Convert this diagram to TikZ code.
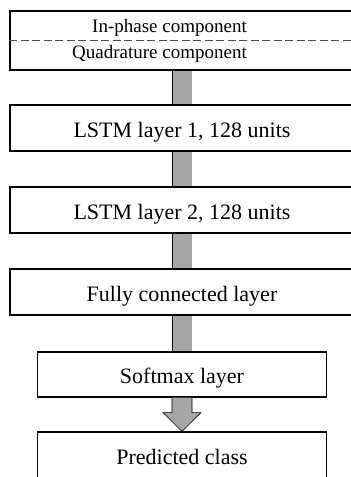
\documentclass[tikz,border=0pt]{standalone}
\usepackage{fontspec}
\setmainfont{Liberation Serif}
\usepackage{tikz}
\usetikzlibrary{calc}

\begin{document}
\begin{tikzpicture}[
    layer/.style={draw=black, line width=1.2pt, fill=white,
                  minimum width=344pt, minimum height=46pt,
                  inner sep=0pt, text height=22pt, text depth=3.4pt,
                  font=\fontsize{22}{26}\selectfont},
    small/.style={layer, minimum width=289pt, minimum height=45pt},
    comp/.style={font=\fontsize{19}{22}\selectfont, inner sep=0pt,
                 anchor=base east},
    bar/.style={draw=black, line width=0.6pt, double=black!35,
                double distance=19pt},
    x=1pt, y=-1pt
  ]
  \useasboundingbox (0,0) rectangle (351,477);
  \clip (0,0) rectangle (351,477);

  % input box with the two components
  \node[layer, minimum height=59pt] (iq) at (182, 40.5) {};
  \draw[dashed, dash pattern=on 8pt off 3.5pt, black!70, line width=0.9pt]
    (iq.west) -- (iq.east);
  \node[comp] (ip) at (247, 32.3) {In-phase component};
  \node[comp] (qd) at (247, 58.7) {Quadrature component};

  \node[layer] (lstm1) at (182, 128) {LSTM layer 1, 128 units};
  \node[layer] (lstm2) at (182, 210) {LSTM layer 2, 128 units};
  \node[layer] (fc) at (182, 292) {Fully connected layer};
  \node[small] (soft) at (182, 374.5) {Softmax layer};
  \node[small, minimum height=46pt] (pred) at (182, 455) {Predicted class};

  \draw[bar] (iq.south) -- (lstm1.north);
  \draw[bar] (lstm1.south) -- (lstm2.north);
  \draw[bar] (lstm2.south) -- (fc.north);
  \draw[bar] (fc.south) -- (soft.north);

  % output arrow
  \draw[fill=black!35, line width=0.6pt, line join=miter]
    ($(soft.south)+(-10,0)$) -- ($(soft.south)+(-10,15)$)
    -- ($(soft.south)+(-19,15)$) -- (pred.north)
    -- ($(soft.south)+(19,15)$) -- ($(soft.south)+(10,15)$)
    -- ($(soft.south)+(10,0)$);
\end{tikzpicture}
\end{document}
